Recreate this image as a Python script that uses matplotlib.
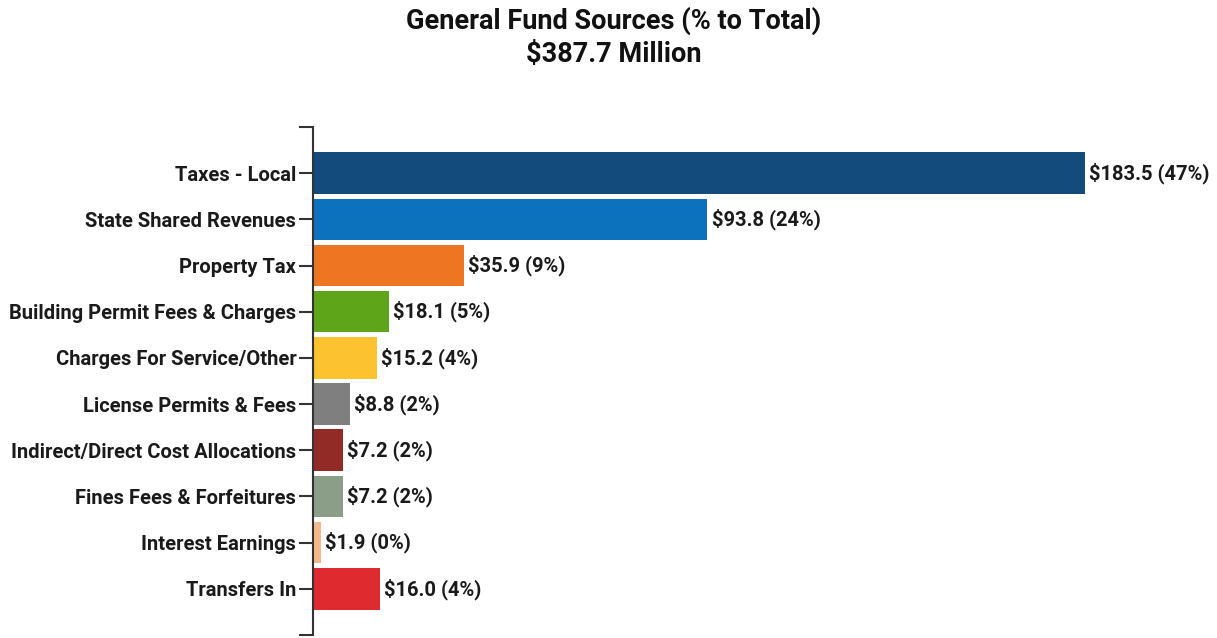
import matplotlib.pyplot as plt

# data
categories = ['Taxes - Local', 'State Shared Revenues', 'Property Tax',
              'Building Permit Fees & Charges', 'Charges For Service/Other',
              'License Permits & Fees', 'Indirect/Direct Cost Allocations',
              'Fines Fees & Forfeitures', 'Interest Earnings', 'Transfers In']
amounts = [183.5, 93.8, 35.9, 18.1, 15.2, 8.8, 7.2, 7.2, 1.9, 16.0]
shares = [47, 24, 9, 5, 4, 2, 2, 2, 0, 4]
colors = ['#134b7d', '#0d72bd', '#ee7623', '#5fa519', '#fdc22f',
          '#7f7f7f', '#922b25', '#8a9e88', '#f4b98b', '#df2a30']

font = ['Roboto', 'DejaVu Sans']

fig = plt.figure(figsize=(12.17, 6.38), dpi=100)
ax = fig.add_axes([0.2572, 0.0047, 0.7428, 0.7963])

ypos = list(range(len(categories)))
ax.barh(ypos, amounts, height=0.9, color=colors)

for y, v, s in zip(ypos, amounts, shares):
    ax.text(v + 1.0, y, f'${v:.1f} ({s}%)', va='center', ha='left',
            fontsize=14.5, fontweight='bold', color='#1a1a1a', family=font)

ax.set_xlim(0, 215)
ax.set_ylim(len(categories) - 0.02, -1 + 0.02)
ax.set_yticks([-1] + ypos + [len(categories)])
ax.set_yticklabels([''] + categories + [''], fontsize=14.5, fontweight='bold',
                   color='#1a1a1a', family=font)
ax.tick_params(axis='y', length=10, width=1.5, color='#333333', pad=2)
ax.set_xticks([])
for side in ['top', 'right', 'bottom']:
    ax.spines[side].set_visible(False)
ax.spines['left'].set_color('#333333')
ax.spines['left'].set_linewidth(1.5)

fig.text(0.504, 0.99, 'General Fund Sources (% to Total)\n$387.7 Million',
         ha='center', va='top', fontsize=19.5, fontweight='bold', family=font,
         linespacing=1.32, color='#111111')

fig.savefig('out.png', dpi=100)
